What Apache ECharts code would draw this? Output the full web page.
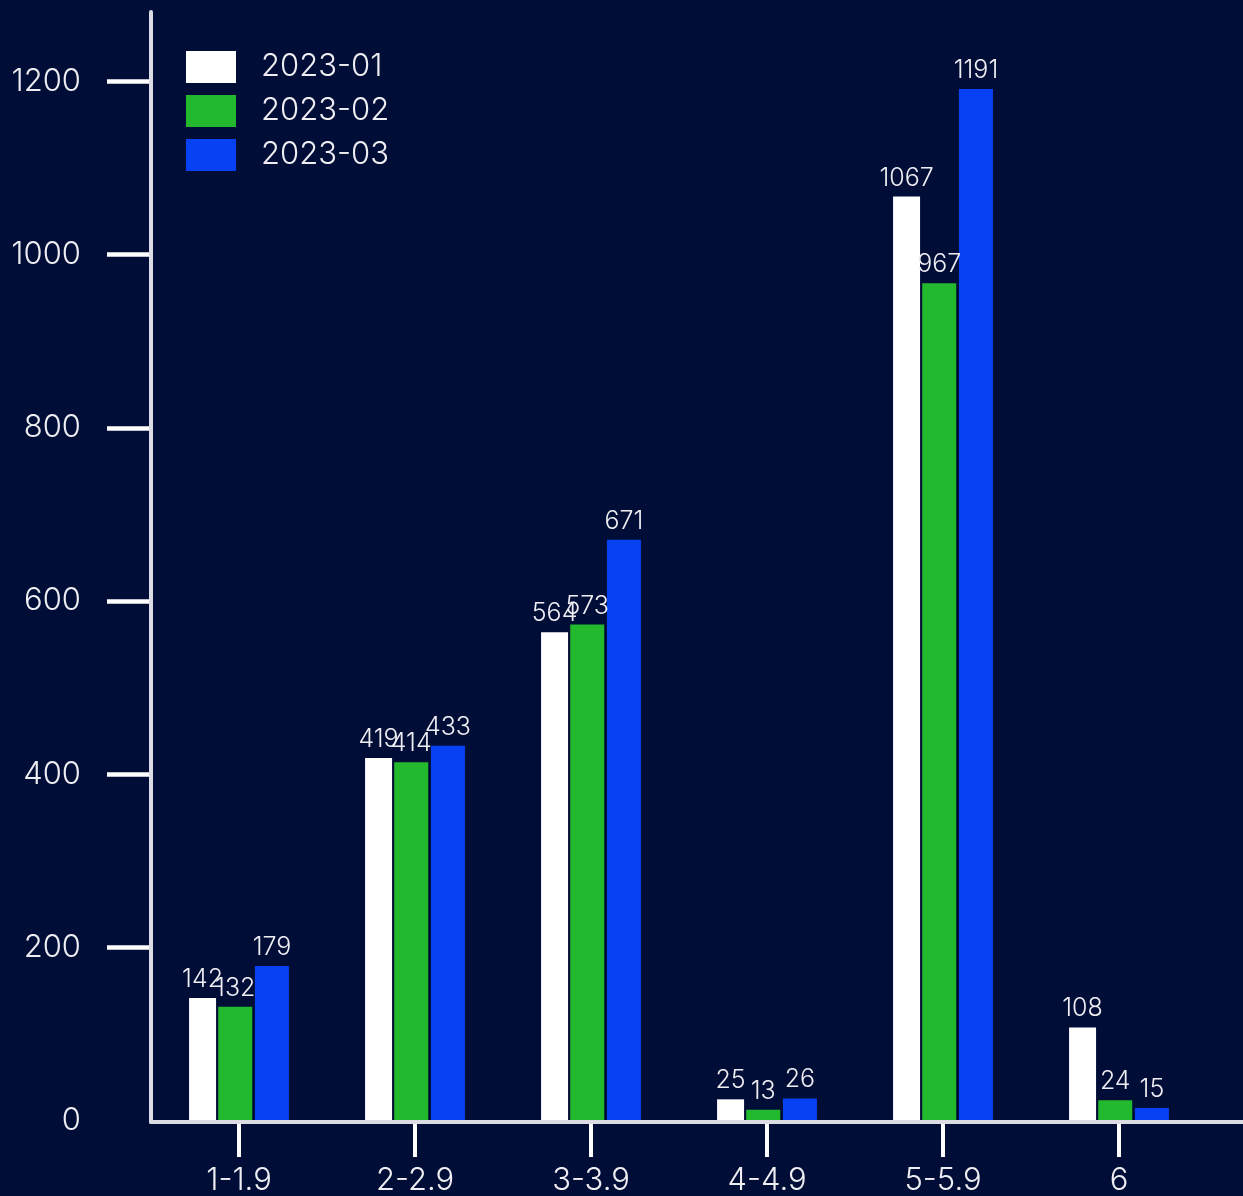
<!DOCTYPE html>
<html>
<head>
<meta charset="utf-8">
<style>
  html, body { margin: 0; padding: 0; background: #000d37; }
  #chart { width: 1243px; height: 1196px; }
</style>
<script src="https://cdn.jsdelivr.net/npm/echarts@6/dist/echarts.min.js"></script>
</head>
<body>
<div id="chart"></div>
<script>
// Ranges (bins) along the category axis
const categories = ['1-1.9', '2-2.9', '3-3.9', '4-4.9', '5-5.9', '6'];

// Counts per month
const jan = [142, 419, 564, 25, 1067, 108];
const feb = [132, 414, 573, 13, 967, 24];
const mar = [179, 433, 671, 26, 1191, 15];

// Value axis tick labels
const yTicks = [0, 200, 400, 600, 800, 1000, 1200];

const FONT = 'Inter, Roboto, sans-serif';
const TEXT = '#eeeef2';
const AXIS = '#dcdce4';

const chart = echarts.init(document.getElementById('chart'), null, { renderer: 'canvas' });

function barSeries(name, data, color, width) {
  return {
    name: name,
    type: 'bar',
    xAxisIndex: 0,
    yAxisIndex: 0,
    data: data,
    barWidth: width,
    barGap: '8%',
    itemStyle: { color: color },
    label: {
      show: true,
      position: 'top',
      distance: 6,
      color: TEXT,
      fontFamily: FONT,
      fontWeight: 300,
      fontSize: 25
    }
  };
}

chart.setOption({
  backgroundColor: '#000d37',
  animation: false,
  legend: {
    orient: 'vertical',
    left: 186,
    top: 51,
    padding: 0,
    itemWidth: 50,
    itemHeight: 32,
    itemGap: 12,
    icon: 'rect',
    textStyle: {
      color: TEXT,
      fontFamily: FONT,
      fontWeight: 300,
      fontSize: 31,
      lineHeight: 32,
      padding: [0, 0, 0, 20]
    },
    data: ['2023-01', '2023-02', '2023-03']
  },
  grid: [
    { left: 151, top: 12, width: 1056, bottom: 74 },
    { left: 151, top: 12, right: 0, bottom: 74 }
  ],
  xAxis: [
    {
      type: 'category',
      gridIndex: 0,
      data: categories,
      axisLine: { show: false },
      axisTick: {
        show: true,
        alignWithLabel: true,
        length: 36,
        lineStyle: { color: '#ffffff', width: 4 }
      },
      axisLabel: {
        color: TEXT,
        fontFamily: FONT,
        fontWeight: 300,
        fontSize: 31,
        lineHeight: 31,
        margin: 44
      },
      splitLine: { show: false }
    },
    {
      type: 'value',
      gridIndex: 1,
      min: 0,
      max: 1,
      z: 5,
      axisLine: { show: true, onZero: false, lineStyle: { color: AXIS, width: 4 } },
      axisTick: { show: false },
      axisLabel: { show: false },
      splitLine: { show: false }
    }
  ],
  yAxis: [
    {
      type: 'value',
      gridIndex: 0,
      min: 0,
      max: 1280,
      axisLine: { show: false },
      axisTick: {
        show: true,
        length: 44,
        customValues: yTicks.filter(v => v > 0),
        lineStyle: { color: '#ffffff', width: 4.5 }
      },
      axisLabel: {
        color: TEXT,
        fontFamily: FONT,
        fontWeight: 300,
        fontSize: 31,
        margin: 70,
        customValues: yTicks,
        formatter: v => String(v)
      },
      splitLine: { show: false }
    },
    {
      type: 'value',
      gridIndex: 1,
      min: 0,
      max: 1,
      z: 5,
      axisLine: { show: true, onZero: false, lineStyle: { color: AXIS, width: 4 } },
      axisTick: { show: false },
      axisLabel: { show: false },
      splitLine: { show: false }
    }
  ],
  series: [
    barSeries('2023-01', jan, '#ffffff', 27),
    barSeries('2023-02', feb, '#23b92f', 34),
    barSeries('2023-03', mar, '#0641f4', 34)
  ]
});
</script>
</body>
</html>
